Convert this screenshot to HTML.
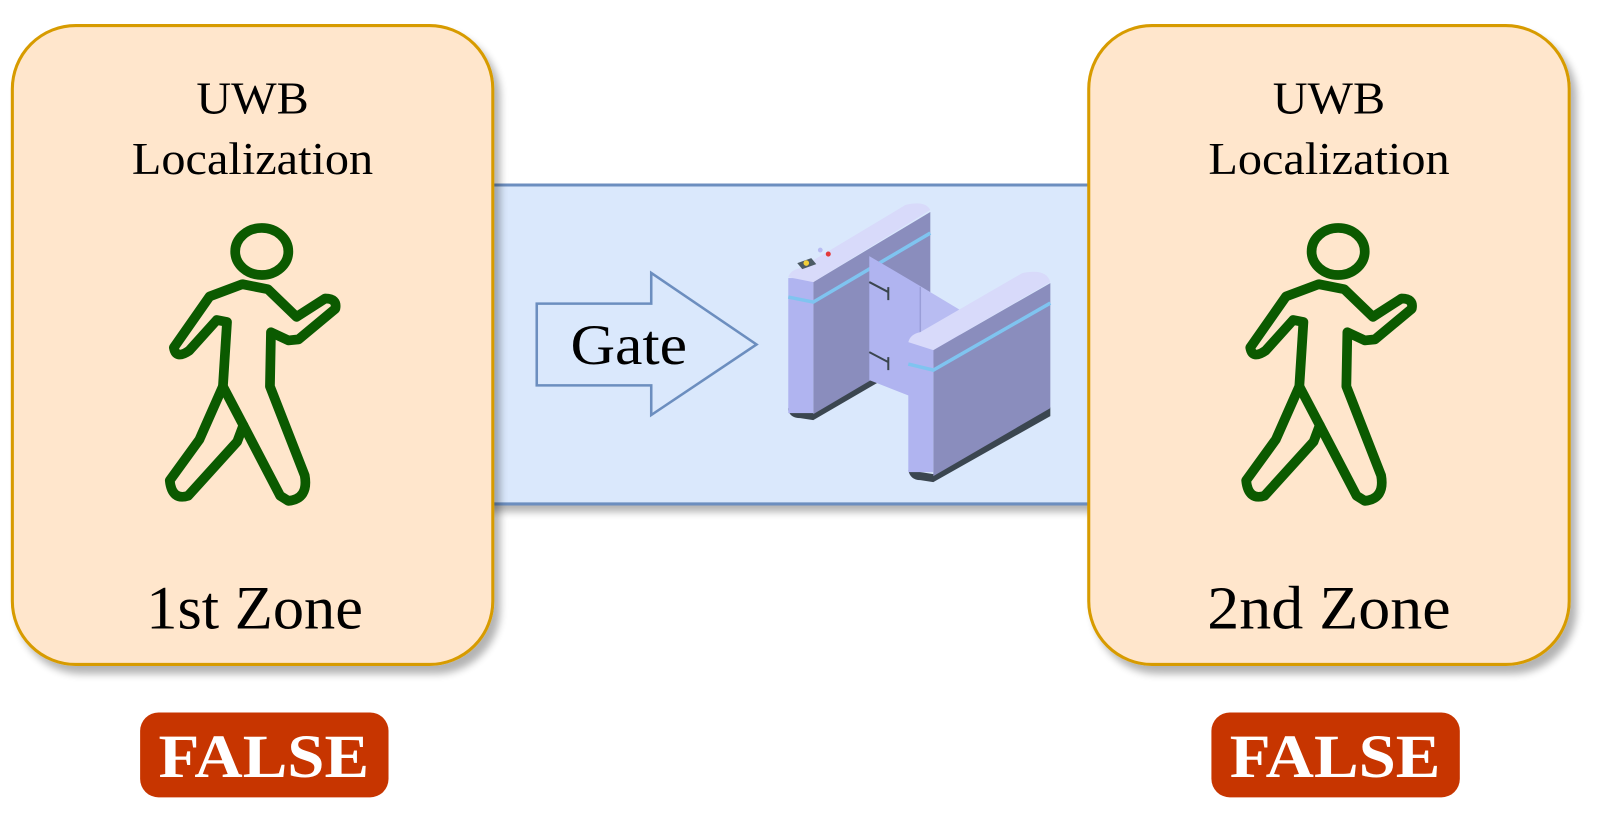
<!DOCTYPE html>
<html><head><meta charset="utf-8"><style>
html,body{margin:0;padding:0;background:#fff;}
svg{display:block}
text{font-family:"Liberation Serif",serif;}
</style></head><body>
<svg width="1603" height="828" viewBox="0 0 1568 810" xmlns="http://www.w3.org/2000/svg">
<defs>
<filter id="sh" x="-10%" y="-10%" width="130%" height="130%"><feGaussianBlur in="SourceAlpha" stdDeviation="4"/><feOffset dx="6" dy="8"/><feComponentTransfer><feFuncA type="linear" slope="0.3"/></feComponentTransfer><feMerge><feMergeNode/><feMergeNode in="SourceGraphic"/></feMerge></filter>
</defs>
<g filter="url(#sh)">
<rect x="470" y="181" width="610" height="312" fill="#dae8fc"/>
</g>
<line x1="470" y1="181" x2="1080" y2="181" stroke="#6c8ebf" stroke-width="3"/>
<line x1="470" y1="493" x2="1080" y2="493" stroke="#6c8ebf" stroke-width="3"/>
<g filter="url(#sh)">
<rect x="12" y="25" width="470" height="625" rx="62" fill="#ffe6cc" stroke="#d79b00" stroke-width="3"/>
<rect x="1065" y="25" width="470" height="625" rx="62" fill="#ffe6cc" stroke="#d79b00" stroke-width="3"/>
</g>
<g font-size="44" text-anchor="middle" fill="#000">
<text x="247" y="111" textLength="110" lengthAdjust="spacingAndGlyphs">UWB</text>
<text x="247" y="170" textLength="236" lengthAdjust="spacingAndGlyphs">Localization</text>
<text x="1300" y="111" textLength="110" lengthAdjust="spacingAndGlyphs">UWB</text>
<text x="1300" y="170" textLength="236" lengthAdjust="spacingAndGlyphs">Localization</text>
</g>
<g font-size="60" text-anchor="middle" fill="#000">
<text x="249" y="615" textLength="212" lengthAdjust="spacingAndGlyphs">1st Zone</text>
<text x="1300" y="615" textLength="238" lengthAdjust="spacingAndGlyphs">2nd Zone</text>
</g>
<g id="p" fill="none" stroke="#0b5a00" stroke-width="9.5" stroke-linejoin="round" stroke-linecap="round">
<ellipse cx="256" cy="246" rx="26" ry="23"/>
<path d="M205,290 L237,278 L262,283 L290,310 L318,292 Q330,292 328,302 L292,332 L282,333 L265,325 L264,378 L298,465 Q302,488 282,490 L274,485 L238,416 L232,432 L184,485 Q168,490 166,470 L195,430 L218,378 L222,315 L212,313 L185,343 Q172,352 170,340 L205,290 Z"/>
<path d="M218,378 L238,416"/>
</g>
<use href="#p" x="1053" y="0"/>
<rect x="137" y="697" width="243" height="83" rx="18" fill="#c73500"/>
<rect x="1185" y="697" width="243" height="83" rx="18" fill="#c73500"/>
<g font-size="60" font-weight="bold" fill="#fff" text-anchor="middle">
<text x="258" y="760" textLength="206" lengthAdjust="spacingAndGlyphs">FALSE</text>
<text x="1306" y="760" textLength="206" lengthAdjust="spacingAndGlyphs">FALSE</text>
</g>
<path d="M525,297 L637,297 L637,267 L740,337 L637,406 L637,377 L525,377 Z" fill="#dae8fc" stroke="#6c8ebf" stroke-width="2.5"/>
<text x="615" y="356" font-size="56" text-anchor="middle" fill="#000" textLength="114" lengthAdjust="spacingAndGlyphs">Gate</text>
<g transform="scale(0.9785)">
<path d="M788,410 Q790,418 800,418 L813,420 L930,352 L930,345 L813,413 L788,408 Z" fill="#3b4650"/>
<polygon points="813,282 930,212 930,345 813,414" fill="#8a8dbd"/>
<rect x="788" y="278" width="25" height="135" fill="#b0b4f0"/>
<path d="M788,277 Q790,270 800,268 L905,205 Q925,200 930,210 L813,282 Z" fill="#d8dafa"/>
<path d="M788,297 L813,302 L930,233" fill="none" stroke="#7fc4f0" stroke-width="3.5"/>
<polygon points="797,263 811,258 816,264 802,269" fill="#4c5a64"/>
<circle cx="806" cy="263" r="2.8" fill="#f2cf3a"/>
<circle cx="828" cy="254" r="2.5" fill="#e33a3a"/>
<circle cx="820" cy="250" r="2.4" fill="#b8bcf2"/>
<polygon points="869,256 920,286 920,400 869,380" fill="#b0b4f0"/>
<polygon points="920,286 960,310 960,350 920,370" fill="#b8bcf2"/>
<line x1="920" y1="287" x2="920" y2="400" stroke="#9a9ed8" stroke-width="1.5"/>
<path d="M869,282 L888,292 M888,287 L888,300 M869,352 L888,362 M888,357 L888,370" stroke="#3b4650" stroke-width="2"/>
<path d="M908,470 Q910,480 920,480 L933,482 L1050,416 L1050,407 L933,474 L908,470 Z" fill="#3b4650"/>
<polygon points="933,350 1050,283 1050,408 933,476" fill="#8a8dbd"/>
<rect x="908" y="342" width="25" height="130" fill="#b0b4f0"/>
<path d="M908,342 Q910,334 920,332 L1022,273 Q1046,268 1050,282 L933,350 Z" fill="#d8dafa"/>
<path d="M908,364 L933,370 L1050,303" fill="none" stroke="#7fc4f0" stroke-width="3.5"/>
</g>
</svg>
</body></html>
